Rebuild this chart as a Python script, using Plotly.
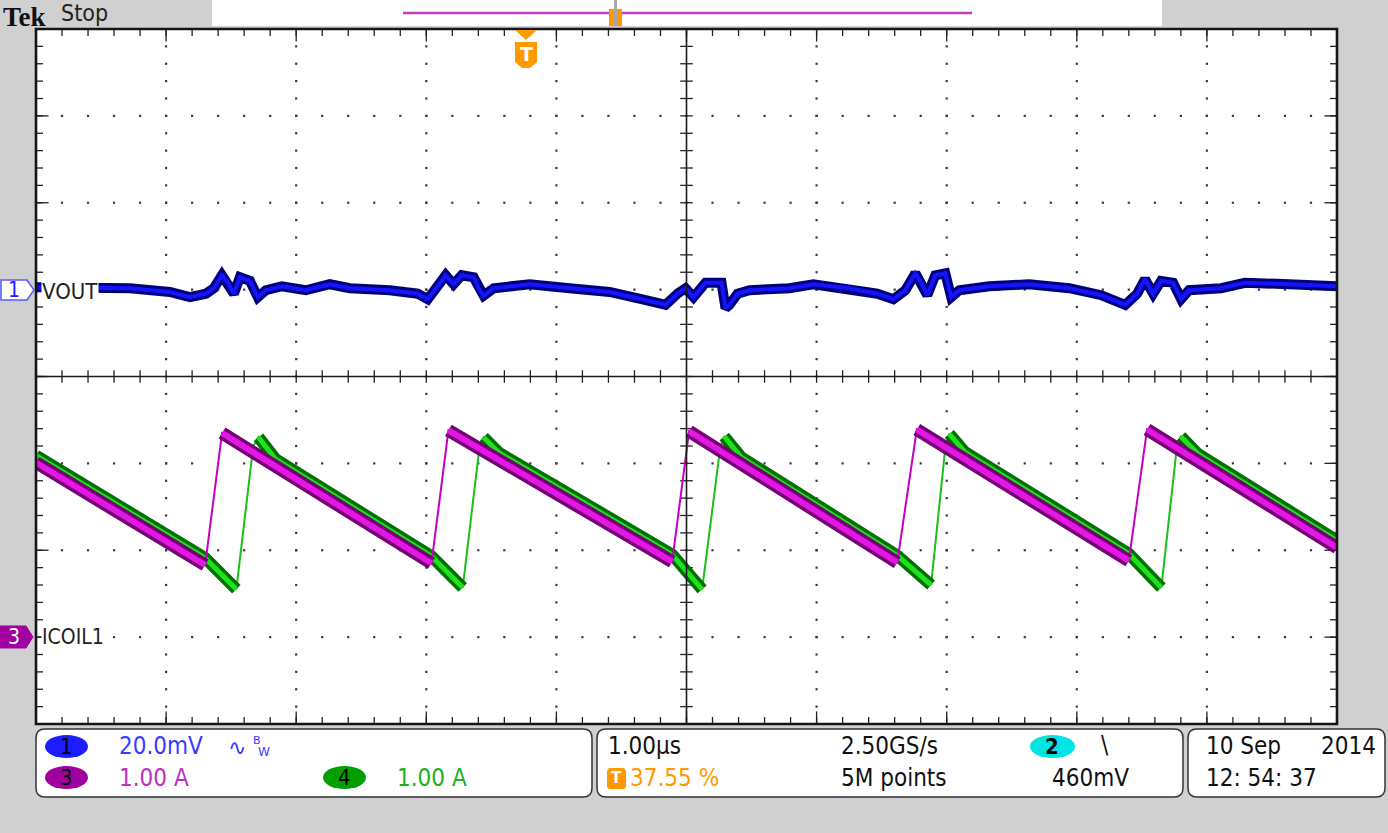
import plotly.graph_objects as go

# ---------------- data ----------------
# time base: 1.00 us/div, 10 divisions across the screen
# Channel 3 (ICOIL1, 1.00 A/div): vertices of the sawtooth
ch3_time_us = [0.00, 1.30, 1.43, 3.04, 3.17, 4.89, 5.02, 6.62, 6.77, 8.40, 8.54, 10.00]
ch3_current_A = [2.01, 0.83, 2.35, 0.85, 2.38, 0.87, 2.37, 0.86, 2.39, 0.88, 2.39, 1.03]

# Channel 4 (1.00 A/div)
ch4_time_us = [0.00, 1.30, 1.54, 1.67, 1.71, 1.84, 3.04, 3.28, 3.41, 3.44, 3.56,
               4.89, 5.12, 5.26, 5.29, 5.42, 6.62, 6.88, 6.99, 7.02, 7.14,
               8.40, 8.65, 8.77, 8.80, 8.93, 10.00]
ch4_current_A = [2.09, 0.91, 0.55, 2.20, 2.30, 2.05, 0.93, 0.57, 2.20, 2.30, 2.12,
                 0.95, 0.55, 2.19, 2.31, 2.07, 0.94, 0.60, 2.19, 2.34, 2.13,
                 0.96, 0.57, 2.20, 2.31, 2.11, 1.11]

# Channel 1 (VOUT, 20.0 mV/div)
ch1_time_us = [0.000, 0.507, 0.722, 1.029, 1.183, 1.306, 1.367, 1.429, 1.475, 1.521,
               1.567, 1.644, 1.705, 1.767, 1.889, 2.074, 2.258, 2.412, 2.719, 2.934,
               3.011, 3.088, 3.149, 3.210, 3.272, 3.364, 3.410, 3.441, 3.518, 3.794,
               4.101, 4.409, 4.654, 4.839, 4.931, 4.992, 5.054, 5.146, 5.269, 5.300,
               5.330, 5.392, 5.484, 5.791, 5.975, 6.252, 6.467, 6.590, 6.682, 6.759,
               6.805, 6.851, 6.912, 6.989, 7.035, 7.097, 7.327, 7.634, 7.942, 8.187,
               8.372, 8.464, 8.525, 8.587, 8.648, 8.740, 8.802, 8.863, 9.109, 9.293,
               9.631, 10.000]
ch1_vout_mV = [0.55, 0.55, 0.32, -0.53, -1.74, -0.94, 0.32, 3.31, 1.58, -0.94,
               2.85, 2.02, -1.74, -0.14, 0.78, -0.14, 1.24, 0.32, -0.14, -0.94,
               -2.20, 0.78, 3.31, 1.24, 3.31, 2.85, -0.14, -1.38, 0.32, 1.24,
               0.32, -0.53, -2.20, -3.51, -0.94, 0.32, -1.74, 1.58, 1.58, -4.27,
               -3.51, -0.94, -0.14, 0.32, 1.24, 0.32, -0.94, -2.20, -0.14, 3.77,
               1.58, -1.29, 3.31, 3.77, -1.74, -0.14, 0.78, 1.24, 0.32, -1.29,
               -3.51, -0.94, 2.39, -0.94, 2.02, 1.58, -2.20, -0.14, 0.32, 1.58,
               1.24, 0.78]

# readout texts
ch1_scale = "20.0mV"
ch3_scale = "1.00 A"
ch4_scale = "1.00 A"
timebase = "1.00\u00b5s"
sample_rate = "2.50GS/s"
record_len = "5M points"
trig_pos = "37.55 %"
trig_level = "460mV"
date_str = ["10 Sep", "2014", "12: 54: 37"]

# ---------------- geometry helpers (layout only) ----------------
Wd, Ht = 1388, 833
L, R, T, B = 36, 1337, 29, 724


def X(px):
    return (px - L) / (R - L)


def Y(py):
    return (B - py) / (B - T)


FONT = "Liberation Sans Narrow, DejaVu Sans Condensed, Arial Narrow, DejaVu Sans, sans-serif"

fig = go.Figure()

# ---------------- graticule ----------------
minor_x = [i * 0.2 for i in range(51)]
minor_y = [-4 + j * 0.2 for j in range(41)]
gx, gy = [], []
for k in [1, 2, 3, 4, 6, 7, 8, 9]:
    for yy in minor_y:
        gx.append(k)
        gy.append(yy)
for k in [-3, -2, -1, 1, 2, 3]:
    for xx in minor_x:
        gx.append(xx)
        gy.append(k)
fig.add_trace(go.Scatter(x=gx, y=gy, mode="markers", hoverinfo="skip",
                         marker=dict(symbol="square", size=2.2, color="#3a3a3a")))


def ticks(xs, ys, sym, size):
    fig.add_trace(go.Scatter(x=xs, y=ys, mode="markers", hoverinfo="skip",
                             marker=dict(symbol=sym, size=size, color="#222",
                                         line=dict(width=1.3, color="#222"))))


ticks([5] * 41, minor_y, "line-ew", 9)
ticks(minor_x, [0] * 51, "line-ns", 9)
ticks([0] * 41 + [10] * 41, minor_y * 2, "line-ew", 10)
ticks(minor_x * 2, [4] * 51 + [-4] * 51, "line-ns", 10)
major_x = [float(k) for k in range(11)]
major_y = [float(k) for k in range(-4, 5)]
ticks([0] * 9 + [10] * 9, major_y * 2, "line-ew", 18)
ticks(major_x * 2, [4] * 11 + [-4] * 11, "line-ns", 18)


# ---------------- waveforms ----------------
def falling_only(t, v):
    xs, ys = [t[0]], [v[0]]
    for i in range(1, len(t)):
        if v[i] > v[i - 1]:
            xs.append(None)
            ys.append(None)
        xs.append(t[i])
        ys.append(v[i])
    return xs, ys


def current_trace(t, v, thin, dark, bright, wo, wi):
    fig.add_trace(go.Scatter(x=t, y=v, yaxis="y3", mode="lines", hoverinfo="skip",
                             line=dict(color=thin, width=2)))
    fx, fy = falling_only(t, v)
    fig.add_trace(go.Scatter(x=fx, y=fy, yaxis="y3", mode="lines", hoverinfo="skip",
                             line=dict(color=dark, width=wo)))
    fig.add_trace(go.Scatter(x=fx, y=fy, yaxis="y3", mode="lines", hoverinfo="skip",
                             line=dict(color=bright, width=wi)))


current_trace(ch4_time_us, ch4_current_A, "#18c018", "#007000", "#20e020", 12, 5)
current_trace(ch3_time_us, ch3_current_A, "#c400c4", "#760076", "#e418e4", 13, 6)

fig.add_trace(go.Scatter(x=ch1_time_us, y=ch1_vout_mV, yaxis="y2", mode="lines",
                         hoverinfo="skip", line=dict(color="#00007a", width=10)))
fig.add_trace(go.Scatter(x=ch1_time_us, y=ch1_vout_mV, yaxis="y2", mode="lines",
                         hoverinfo="skip", line=dict(color="#1414ff", width=4)))

# ---------------- shapes ----------------
shapes = []
shapes.append(dict(type="line", xref="x", yref="paper", x0=5, x1=5, y0=0, y1=1,
                   line=dict(color="#1a1a1a", width=1.6), layer="above"))
shapes.append(dict(type="line", xref="paper", yref="y", x0=0, x1=1, y0=0, y1=0,
                   line=dict(color="#1a1a1a", width=1.6), layer="above"))
shapes.append(dict(type="rect", xref="paper", yref="paper", x0=0, x1=1, y0=0, y1=1,
                   line=dict(color="#151515", width=2.6), layer="above"))


def path_px(pts, close=True):
    s = "M " + " L ".join(f"{X(a):.5f},{Y(b):.5f}" for a, b in pts)
    return s + (" Z" if close else "")


def rrect(x0, y0, x1, y1, r, fill="white", lc="#333", lw=1.5):
    p = (f"M {X(x0 + r):.5f},{Y(y0):.5f} L {X(x1 - r):.5f},{Y(y0):.5f} "
         f"Q {X(x1):.5f},{Y(y0):.5f} {X(x1):.5f},{Y(y0 + r):.5f} "
         f"L {X(x1):.5f},{Y(y1 - r):.5f} Q {X(x1):.5f},{Y(y1):.5f} {X(x1 - r):.5f},{Y(y1):.5f} "
         f"L {X(x0 + r):.5f},{Y(y1):.5f} Q {X(x0):.5f},{Y(y1):.5f} {X(x0):.5f},{Y(y1 - r):.5f} "
         f"L {X(x0):.5f},{Y(y0 + r):.5f} Q {X(x0):.5f},{Y(y0):.5f} {X(x0 + r):.5f},{Y(y0):.5f} Z")
    shapes.append(dict(type="path", xref="paper", yref="paper", path=p, fillcolor=fill,
                       line=dict(color=lc, width=lw), layer="above"))


def ellipse(x0, y0, x1, y1, fill):
    shapes.append(dict(type="circle", xref="paper", yref="paper", x0=X(x0), x1=X(x1),
                       y0=Y(y1), y1=Y(y0), fillcolor=fill, line=dict(width=0), layer="above"))


def rect(x0, y0, x1, y1, fill):
    shapes.append(dict(type="rect", xref="paper", yref="paper", x0=X(x0), x1=X(x1),
                       y0=Y(y1), y1=Y(y0), fillcolor=fill, line=dict(width=0), layer="above"))


# header record view
rect(212, 0, 1162, 26, "white")
shapes.append(dict(type="line", xref="paper", yref="paper", x0=X(403), x1=X(972), y0=Y(13), y1=Y(13),
                   line=dict(color="#c040c0", width=2.5), layer="above"))
rect(609, 9, 622, 26, "#ff9900")
shapes.append(dict(type="line", xref="paper", yref="paper", x0=X(615.5), x1=X(615.5), y0=Y(0), y1=Y(25),
                   line=dict(color="#a8a8a8", width=3), layer="above"))

# trigger position marker
shapes.append(dict(type="path", xref="paper", yref="paper",
                   path=path_px([(515, 30), (537, 30), (526, 40)]), fillcolor="#ff9900",
                   line=dict(width=0), layer="above"))
shapes.append(dict(type="path", xref="paper", yref="paper",
                   path=path_px([(515, 42), (537, 42), (537, 62), (530, 68), (522, 68), (515, 62)]),
                   fillcolor="#ff9900", line=dict(width=0), layer="above"))

# channel ground markers
shapes.append(dict(type="path", xref="paper", yref="paper",
                   path=path_px([(1, 280), (27, 280), (34, 290), (27, 300), (1, 300)]),
                   fillcolor="white", line=dict(color="#5a5aff", width=1.5), layer="above"))
shapes.append(dict(type="path", xref="paper", yref="paper",
                   path=path_px([(0, 626), (26, 626), (33, 637), (26, 648), (0, 648)]),
                   fillcolor="#a000a0", line=dict(color="#a000a0", width=1), layer="above"))

# bottom readout boxes
rrect(36, 729, 592, 797, 9)
rrect(597, 729, 1183, 797, 9)
rrect(1188, 729, 1385, 797, 9)
ellipse(45, 735, 88, 758, "#1c1cff")
ellipse(45, 766, 88, 789, "#a000a0")
ellipse(323, 766, 366, 789, "#00a000")
ellipse(1030, 735, 1075, 758, "#00e4e4")
shapes.append(dict(type="path", xref="paper", yref="paper",
                   path=path_px([(609, 768), (624, 768), (626, 771), (626, 787), (624, 789), (609, 789),
                                 (607, 787), (607, 771)]),
                   fillcolor="#ff9900", line=dict(width=0), layer="above"))

# ---------------- text ----------------
ann = []


def txt(s, px, py, color="#111", size=24, anchor="left", family=FONT, bg=None, yanchor="middle"):
    d = dict(text=s, x=X(px), y=Y(py), xref="paper", yref="paper", xanchor=anchor,
             yanchor=yanchor, showarrow=False, font=dict(family=family, size=size, color=color))
    if bg:
        d["bgcolor"] = bg
        d["borderpad"] = 0
    ann.append(d)


txt("<b>Tek</b>", 1, 0, "#111", 27, family="Liberation Serif, DejaVu Serif, serif", yanchor="top")
txt("Stop", 59, 13, "#222", 23)
txt("<b>T</b>", 526, 54, "white", 19, anchor="center", family="DejaVu Sans, sans-serif")
txt("1", 14, 290, "#2020ff", 21, anchor="center")
txt("3", 14, 637, "white", 21, anchor="center")
txt("VOUT", 41, 291, "#222", 22, bg="white")
txt("ICOIL1", 41, 637, "#222", 21, bg="white")

txt("1", 66, 746, "#000", 22, anchor="center")
txt(ch1_scale, 117, 746, "#3a3aff", 24)
txt("\u223f", 226, 747, "#3a3aff", 22, family="DejaVu Sans, sans-serif")
txt("B", 251, 741, "#3a3aff", 11, family="DejaVu Sans, sans-serif")
txt("W", 256, 752, "#3a3aff", 12, family="DejaVu Sans, sans-serif")
txt("3", 66, 777, "#000", 22, anchor="center")
txt(ch3_scale, 117, 778, "#c030c0", 24)
txt("4", 344, 777, "#000", 22, anchor="center")
txt(ch4_scale, 395, 778, "#20b020", 24)

txt(timebase, 606, 746, "#111", 24)
txt(sample_rate, 839, 746, "#111", 24)
txt("<b>2</b>", 1052, 746, "#000", 22, anchor="center")
txt("\\", 1099, 745, "#111", 24)
txt("<b>T</b>", 616.5, 778, "white", 15, anchor="center", family="DejaVu Sans, sans-serif")
txt(trig_pos, 628, 778, "#ff9900", 24)
txt(record_len, 839, 778, "#111", 24)
txt(trig_level, 1131, 778, "#111", 24, anchor="right")
txt(date_str[0], 1204, 746, "#111", 24)
txt(date_str[1], 1378, 746, "#111", 24, anchor="right")
txt(date_str[2], 1204, 778, "#111", 24)

fig.update_layout(
    width=Wd, height=Ht, autosize=False,
    margin=dict(l=L, r=Wd - R, t=T, b=Ht - B, pad=0),
    paper_bgcolor="#d0d0d0", plot_bgcolor="white", showlegend=False,
    xaxis=dict(range=[0, 10], visible=False, fixedrange=True),
    yaxis=dict(range=[-4, 4], visible=False, fixedrange=True),
    yaxis2=dict(range=[-100, 60], overlaying="y", visible=False, fixedrange=True),
    yaxis3=dict(range=[-1, 7], overlaying="y", visible=False, fixedrange=True),
    shapes=shapes, annotations=ann,
)

fig.write_html("out.html", config={"displayModeBar": False},
               post_script="document.body.style.margin='0';document.body.style.background='#d0d0d0';")
